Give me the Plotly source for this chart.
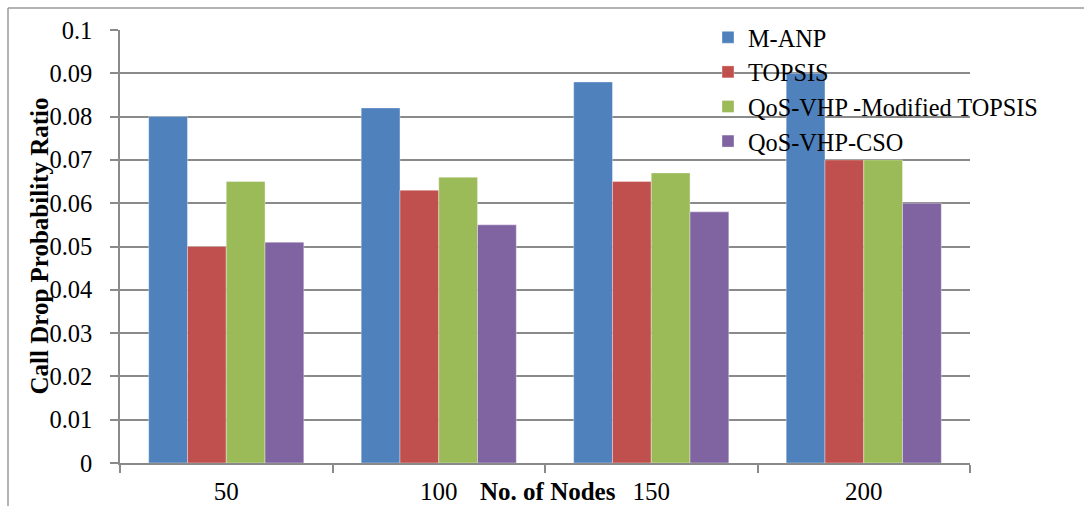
import plotly.graph_objects as go

# Number of nodes in the network
nodes = ["50", "100", "150", "200"]

# Call drop probability ratio per handoff scheme
m_anp = [0.080, 0.082, 0.088, 0.090]
topsis = [0.050, 0.063, 0.065, 0.070]
qos_modified_topsis = [0.065, 0.066, 0.067, 0.070]
qos_cso = [0.051, 0.055, 0.058, 0.060]

y_ticks = [0, 0.01, 0.02, 0.03, 0.04, 0.05, 0.06, 0.07, 0.08, 0.09, 0.1]
y_tick_text = ["0", "0.01", "0.02", "0.03", "0.04", "0.05", "0.06", "0.07", "0.08", "0.09", "0.1"]

series = [
    ("M-ANP", m_anp, "#4F81BD"),
    ("TOPSIS", topsis, "#C0504D"),
    ("QoS-VHP -Modified TOPSIS", qos_modified_topsis, "#9BBB59"),
    ("QoS-VHP-CSO", qos_cso, "#8064A2"),
]

FONT = "Liberation Serif, Times New Roman, serif"
GRAY = "#8a8a8a"

fig = go.Figure()
for i, (name, values, color) in enumerate(series):
    fig.add_trace(go.Bar(
        x=nodes,
        y=values,
        name=name,
        marker=dict(color=color, line=dict(color="rgba(255,255,255,0.6)", width=0.6)),
    ))

W, H = 1084, 506
L, R, T, B = 120, 114, 30, 43
pw, ph = W - L - R, H - T - B

fig.update_layout(
    width=W,
    height=H,
    margin=dict(l=L, r=R, t=T, b=B, autoexpand=False),
    paper_bgcolor="white",
    plot_bgcolor="white",
    barmode="group",
    bargap=0.27,
    bargroupgap=0,
    font=dict(family=FONT, size=25, color="black"),
    showlegend=True,
    legend=dict(
        x=(708 - L) / pw,
        y=1 + (T - 15) / ph,
        xanchor="left",
        yanchor="top",
        bgcolor="rgba(0,0,0,0)",
        font=dict(family=FONT, size=24.3, color="black"),
        tracegroupgap=0,
        itemclick=False,
    ),
    xaxis=dict(
        type="category",
        automargin=False,
        showline=True,
        linecolor=GRAY,
        linewidth=1.5,
        ticks="outside",
        tickson="boundaries",
        ticklen=8,
        tickwidth=1.5,
        tickcolor=GRAY,
        showgrid=False,
        ticklabelstandoff=5,
        tickfont=dict(family=FONT, size=25, color="black"),
    ),
    yaxis=dict(
        range=[0, 0.1],
        automargin=False,
        tickvals=y_ticks,
        ticktext=y_tick_text,
        showline=True,
        linecolor=GRAY,
        linewidth=1.5,
        ticks="outside",
        ticklen=8,
        tickwidth=1.5,
        tickcolor=GRAY,
        showgrid=True,
        gridcolor=GRAY,
        gridwidth=1.5,
        zeroline=False,
        ticklabelstandoff=13,
        tickfont=dict(family=FONT, size=24.5, color="black"),
    ),
    annotations=[
        dict(
            text="<b>No. of Nodes</b>",
            xref="paper", yref="paper",
            x=(548 - L) / pw, y=-(491 - (T + ph)) / ph,
            xanchor="center", yanchor="middle",
            showarrow=False,
            font=dict(family=FONT, size=25, color="black"),
        ),
        dict(
            text="<b>Call Drop Probability Ratio</b>",
            xref="paper", yref="paper",
            x=(39 - L) / pw, y=0.5,
            xanchor="center", yanchor="middle",
            textangle=-90,
            showarrow=False,
            font=dict(family=FONT, size=25, color="black"),
        ),
    ],
    shapes=[
        # outer frame: top and left edges
        dict(type="line", xref="paper", yref="paper",
             x0=(8 - L) / pw, x1=(W - L) / pw,
             y0=1 + (T - 8) / ph, y1=1 + (T - 8) / ph,
             line=dict(color="#9a9a9a", width=1.5)),
        dict(type="line", xref="paper", yref="paper",
             x0=(8 - L) / pw, x1=(8 - L) / pw,
             y0=1 + (T - 8) / ph, y1=-B / ph,
             line=dict(color="#9a9a9a", width=1.5)),
    ],
)

fig.write_html("out.html")
